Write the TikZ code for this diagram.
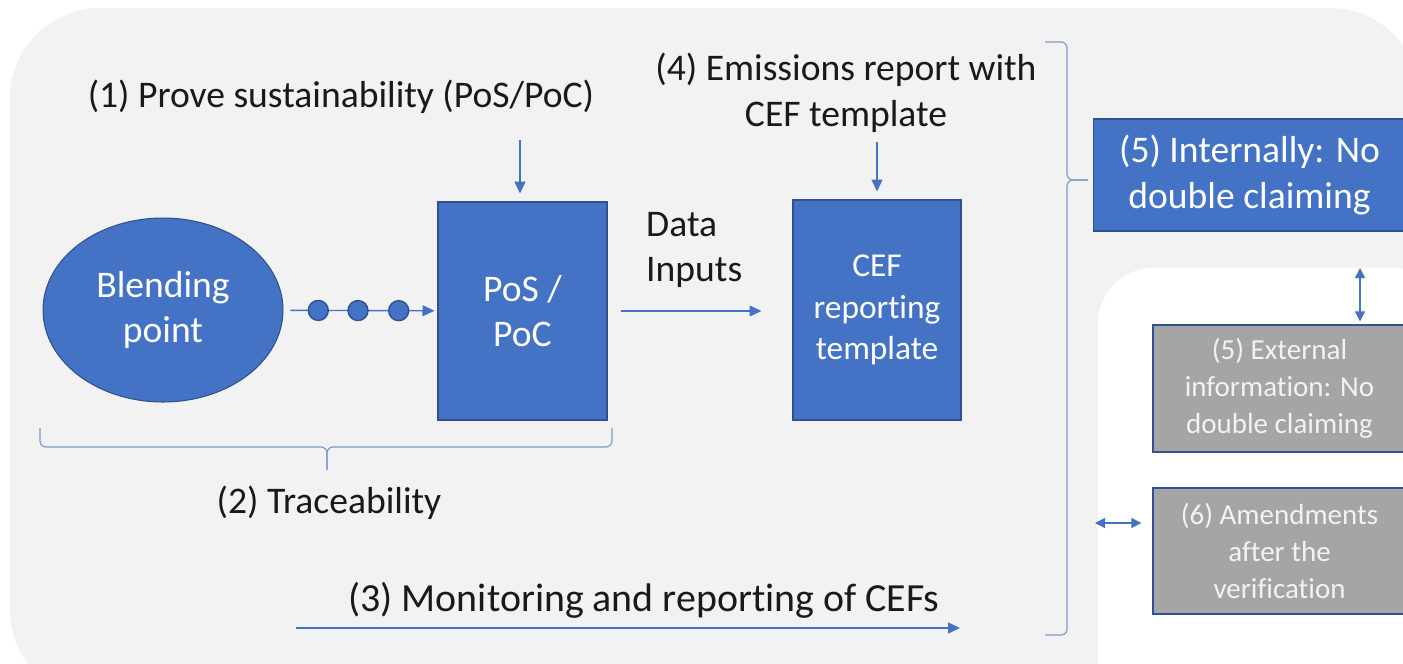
\documentclass[tikz,border=0pt]{standalone}
\usepackage{fontspec}
\setmainfont{Carlito}[Ligatures=NoCommon]
\usetikzlibrary{shapes.geometric,arrows.meta}
\definecolor{boxblue}{HTML}{4472C4}
\definecolor{edgeblue}{HTML}{2F528F}
\definecolor{bggrey}{HTML}{F2F2F2}
\definecolor{boxgrey}{HTML}{A5A5A5}
\definecolor{bracecol}{HTML}{7F9BCF}

\begin{document}
\begin{tikzpicture}[x=0.02cm, y=-0.02cm,
    bigtext/.style={font=\fontsize{21.4}{26}\selectfont, text=black!90, align=center},
    bluebox/.style={draw=edgeblue, line width=0.6pt, fill=boxblue, text=white, align=center, inner sep=0pt, font=\fontsize{21.4}{26}\selectfont},
    greybox/.style={draw=edgeblue, line width=0.8pt, fill=boxgrey, text=bggrey, align=center, inner sep=0pt, font=\fontsize{16.5}{21}\selectfont},
    conn/.style={draw=boxblue, line width=0.8pt, -{Triangle[length=2.4mm, width=2.2mm]}},
    twoway/.style={conn, {Triangle[length=2mm, width=2mm]}-{Triangle[length=2mm, width=2mm]}},
    brace/.style={draw=bracecol, line width=0.7pt, rounded corners=1.2mm},
    dot/.style={circle, draw=edgeblue, fill=boxblue, minimum size=4mm, inner sep=0pt}]

    % Background
    \useasboundingbox (0,0) rectangle (1403,663);
    \fill[white] (0,0) rectangle (1403,663);
    \fill[bggrey, rounded corners=18mm] (10,8) rectangle (1420,700);
    \fill[white, rounded corners=11mm] (1098,268) rectangle (1450,720);

    % Braces
    \draw[brace] (40,428) |- (327,447) -- (327,470);
    \draw[brace] (612,428) |- (327,447) -- (327,470);
    \draw[brace] (1045,42) -| (1067,180) -- (1088,180);
    \draw[brace] (1045,635) -| (1067,180) -- (1088,180);

    % Nodes
    \node[bluebox, ellipse, minimum width=48mm, minimum height=36.8mm] (blend) at (163,310) {Blending\\point};
    \node[bluebox, minimum width=33.8mm, minimum height=43.6mm] (pos) at (522.5,311) {PoS /\\PoC};
    \node[bluebox, minimum width=33.6mm, minimum height=44mm, font=\fontsize{19}{23.5}\selectfont] (cef) at (877,310) {CEF\\reporting\\template};
    \node[bluebox, minimum width=62.6mm, minimum height=22.4mm] (internal) at (1249.5,175) {(5) Internally: No\\double claiming};
    \node[greybox, minimum width=50.6mm, minimum height=25.4mm] (external) at (1279.5,388.5) {(5) External\\information: No\\double claiming};
    \node[greybox, minimum width=50.6mm, minimum height=25.2mm] (amend) at (1279.5,551) {(6) Amendments\\after the\\verification};

    % Labels
    \node[bigtext] (prove) at (341,97) {(1) Prove sustainability (PoS/PoC)};
    \node[bigtext] (emis) at (846,93) {(4) Emissions report with\\CEF template};
    \node[bigtext, align=left, anchor=west] (data) at (640,250) {Data\\Inputs};
    \node[bigtext] (trace) at (329,503) {(2) Traceability};
    \node[bigtext, font=\fontsize{22.7}{27}\selectfont] (monit) at (644,600) {(3) Monitoring and reporting of CEFs};

    \coordinate (prove_end) at (520,140);
    \coordinate (emis_end) at (877,142);
    \coordinate (monit_start) at (296,628);
    \coordinate (monit_end) at (960,628);
    \coordinate (link_top) at (1360,268);
    \coordinate (link_left) at (1095,523);

    % Arrows
    \draw[conn, shorten >=1.6mm] (prove_end) -- (prove_end |- pos.north);
    \draw[conn, shorten >=1.6mm] (emis_end) -- (cef.north);
    \draw[conn, shorten <=1.4mm, shorten >=0.6mm] (blend) -- (pos)
        node[dot, pos=0.226] {} node[dot, pos=0.484] {} node[dot, pos=0.748] {};
    \draw[conn, shorten <=2.6mm, shorten >=6.2mm] (pos.east) -- (pos.east -| cef.west);
    \draw[conn] (monit_start) -- (monit_end);
    \draw[twoway, shorten >=0.6mm] (link_top) -- (link_top |- external.north);
    \draw[twoway, shorten >=2.2mm] (link_left) -- (link_left -| amend.west);
\end{tikzpicture}
\end{document}
